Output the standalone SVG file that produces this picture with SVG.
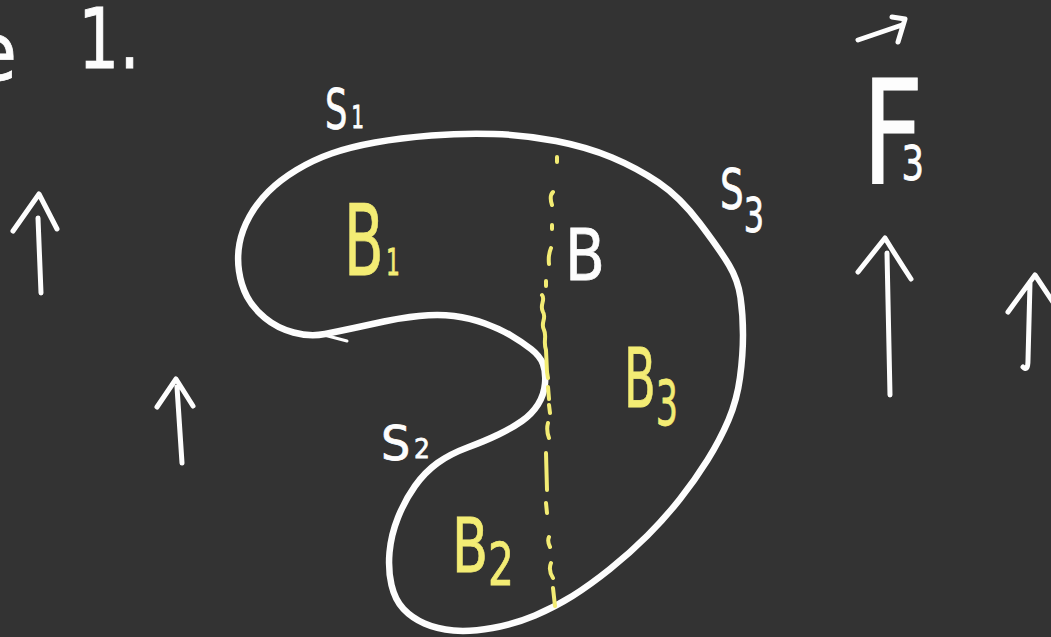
<svg xmlns="http://www.w3.org/2000/svg" width="1051" height="637" viewBox="0 0 1051 637">
<style>
.ink{fill:none;stroke:#fdfdfd;stroke-width:5;stroke-linecap:round;stroke-linejoin:round}
.outline{fill:none;stroke:#fdfdfd;stroke-width:6.5;stroke-linecap:round;stroke-linejoin:round}
.dash{fill:none;stroke:#f3ec74;stroke-width:4;stroke-linecap:round;stroke-linejoin:round}
text{font-family:"DejaVu Sans","Liberation Sans",sans-serif}
.tw{fill:#fdfdfd;stroke:#fdfdfd;stroke-width:0.8}
.ty{fill:#f3ec74;stroke:#f3ec74;stroke-width:0.8}
</style>
<rect width="1051" height="637" fill="#333333"/>
<g id="title">
<text class="tw" x="-28" y="80" font-size="80" textLength="45" lengthAdjust="spacingAndGlyphs">e</text>
<text class="tw" x="78" y="68" font-size="84" textLength="62" lengthAdjust="spacingAndGlyphs">1.</text>
</g>
<g id="blob">
<path class="outline" d="M 325,334 Q 310,337 293.5,332.5 Q 277,328 265,318 Q 253,308 247,296.5 Q 241,285 239,271 Q 237,257 239.5,243.5 Q 242,230 249.5,216.5 Q 257,203 268.5,191.5 Q 280,180 296.5,170 Q 313,160 331.5,153.5 Q 350,147 375,142.5 Q 400,138 431.5,135.5 Q 463,133 494,134 Q 525,135 556,141 Q 587,147 612,157.5 Q 637,168 658.5,182.5 Q 680,197 700,223.5 Q 720,250 729,265 Q 738,280 740.5,297.5 Q 743,315 743,335 Q 743,355 740,377.5 Q 737,400 728.5,420 Q 720,440 707.5,460 Q 695,480 680,499 Q 665,518 647.5,535.5 Q 630,553 610,569 Q 590,585 572.5,596 Q 555,607 535,615.5 Q 515,624 492.5,628 Q 470,632 453.5,630.5 Q 437,629 424.5,623.5 Q 412,618 403.5,609 Q 395,600 391.5,585 Q 388,570 389.5,552.5 Q 391,535 398,517.5 Q 405,500 415,486 Q 425,472 437.5,463 Q 450,454 467.5,447.5 Q 485,441 498.5,434.5 Q 512,428 522,421 Q 532,414 538,404.5 Q 544,395 545,383.5 Q 546,372 543,364 Q 540,356 531,349 Q 522,342 511,335.5 Q 500,329 485,323.5 Q 470,318 454,316 Q 438,314 419,316 Q 400,318 384,321.5 Q 368,325 354,328 Q 340,331 325,334 Z"/>
<path class="ink" style="stroke-width:3" d="M324,335 L347,341"/>
</g>
<g id="divider">
<path class="dash" d="M557,157 L557,162 M553,192 Q549,196 552,205 M552,225 L552,229 M551,248 Q548,255 549,264 M546,281 L546,286 M542,295 C546,300 539,305 543,312 C547,318 540,323 544,330 C547,336 543,342 546,350 L547,372 L548,378 M548,387 L549,399 M549,405 L550,413 M548,423 Q546,430 549,438 M546,453 L547,490 M546,503 L547,513 M549,537 Q547,541 550,547 M551,563 Q548,570 553,578 M553,588 L555,606"/>
</g>
<g id="labels">
<text class="tw" x="325" y="128" font-size="56" textLength="39" lengthAdjust="spacingAndGlyphs">S<tspan font-size="32" dx="6">1</tspan></text>
<text class="tw" x="720" y="208" font-size="56" textLength="44" lengthAdjust="spacingAndGlyphs">S<tspan font-size="48" dy="24">3</tspan></text>
<text class="tw" x="381" y="460" font-size="48" textLength="49" lengthAdjust="spacingAndGlyphs">S<tspan font-size="26" dx="4" dy="-2">2</tspan></text>
<text class="ty" x="344" y="275" font-size="98" textLength="56" lengthAdjust="spacingAndGlyphs">B<tspan font-size="37" dx="4">1</tspan></text>
<text class="tw" x="565" y="280" font-size="71" textLength="40" lengthAdjust="spacingAndGlyphs">B</text>
<text class="ty" x="624" y="407" font-size="82" textLength="54" lengthAdjust="spacingAndGlyphs">B<tspan font-size="62" dy="18">3</tspan></text>
<text class="ty" x="452" y="572" font-size="75" textLength="62" lengthAdjust="spacingAndGlyphs">B<tspan font-size="58" dy="13">2</tspan></text>
</g>
<g id="force">
<path class="ink" d="M858,40 L902,25 M892,17 L905,19 L898,42"/>
<text class="tw" x="862" y="183" font-size="145" textLength="62" lengthAdjust="spacingAndGlyphs">F<tspan font-size="48" dx="-30" dy="-3">3</tspan></text>
</g>
<g id="arrows">
<path class="ink" d="M41,293 L38,218 M13,231 L39,194 L57,229"/>
<path class="ink" d="M182,463 L177,387 M157,407 L176,379 L193,406"/>
<path class="ink" d="M890,395 L887,253 M858,272 L885,238 Q896,256 911,279"/>
<path class="ink" d="M1023,367 Q1028,372 1028,360 L1030,283 M1008,312 L1035,275 L1053,302"/>
</g>
</svg>
